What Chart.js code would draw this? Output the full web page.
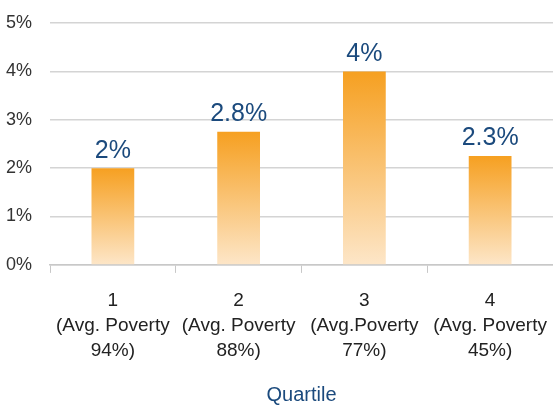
<!DOCTYPE html>
<html>
<head>
<meta charset="utf-8">
<script src="https://cdn.jsdelivr.net/npm/chart.js@4.4.1/dist/chart.umd.min.js"></script>
<style>
  body { margin: 0; background: #fff; }
  canvas { display: block; }
</style>
</head>
<body>
<canvas id="grafico" width="553" height="407"></canvas>
<script>
// dados
const quartis = [
    ["1", "(Avg. Poverty", "94%)"],
    ["2", "(Avg. Poverty", "88%)"],
    ["3", "(Avg.Poverty", "77%)"],
    ["4", "(Avg. Poverty", "45%)"]
];
const valores = [2, 2.75, 4, 2.25];
const rotulos = ["2%", "2.8%", "4%", "2.3%"];

const fonte = "'Liberation Sans', Arial, sans-serif";

// gradiente por barra (laranja no topo, claro na base)
function corBarra(ctx) {
    const chart = ctx.chart;
    if (!chart.chartArea || ctx.dataIndex === undefined) return "#f7a22a";
    const y = chart.scales.y;
    const topo = y.getPixelForValue(valores[ctx.dataIndex]);
    const base = y.getPixelForValue(0);
    const g = chart.ctx.createLinearGradient(0, topo, 0, base);
    g.addColorStop(0, "#f6a021");
    g.addColorStop(1, "#fde6c8");
    return g;
}

const rotulosPlugin = {
    id: "rotulos",
    afterDatasetsDraw(chart) {
        const ctx = chart.ctx;
        const meta = chart.getDatasetMeta(0);
        ctx.save();
        ctx.font = "25px " + fonte;
        ctx.fillStyle = "#1b4a7d";
        ctx.textAlign = "center";
        ctx.textBaseline = "bottom";
        meta.data.forEach((bar, i) => {
            ctx.fillText(rotulos[i], bar.x, bar.y - 5);
        });
        ctx.restore();
    }
};

new Chart(document.getElementById("grafico"), {
    type: "bar",
    data: {
        labels: quartis,
        datasets: [{
            data: valores,
            backgroundColor: corBarra,
            borderWidth: 0,
            barPercentage: 0.34,
            categoryPercentage: 1
        }]
    },
    options: {
        responsive: false,
        animation: false,
        layout: { padding: { top: 23, right: 0, left: 0, bottom: 0 } },
        plugins: {
            legend: { display: false },
            tooltip: { enabled: false }
        },
        scales: {
            y: {
                min: 0,
                max: 5,
                ticks: {
                    stepSize: 1,
                    callback: v => v + "%",
                    font: { family: fonte, size: 18 },
                    color: "#333",
                    padding: 18
                },
                grid: { color: "#d4d4d4", lineWidth: 1.5, drawTicks: false },
                border: { display: false },
                afterFit(scale) {
                    scale.width = 50;
                    scale.paddingTop = 0;
                    scale.paddingBottom = 0;
                }
            },
            x: {
                grid: {
                    drawOnChartArea: false,
                    drawTicks: true,
                    tickLength: 8,
                    color: "#c8c8c8",
                    offset: true
                },
                border: { color: "#c8c8c8", width: 1.5 },
                ticks: {
                    font: { family: fonte, size: 19, lineHeight: 1.3 },
                    color: "#222",
                    padding: 16,
                    maxRotation: 0
                },
                title: {
                    display: true,
                    text: "Quartile",
                    font: { family: fonte, size: 20 },
                    color: "#1b4a7d",
                    padding: { top: 4, bottom: 0 }
                },
                afterFit(scale) {
                    scale.paddingLeft = 0;
                    scale.paddingRight = 0;
                }
            }
        }
    },
    plugins: [rotulosPlugin]
});
</script>
</body>
</html>
